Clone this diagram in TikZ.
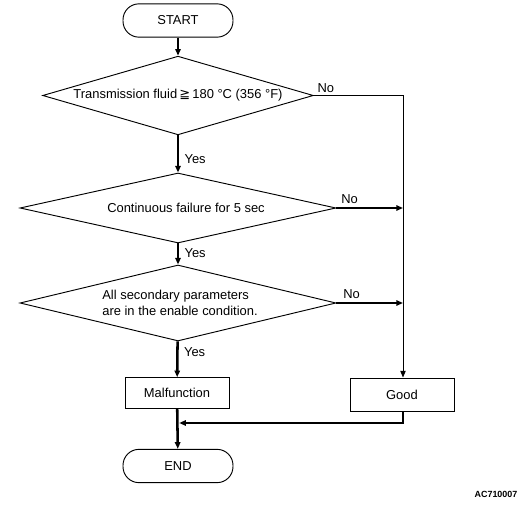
\documentclass[tikz,border=0pt]{standalone}
\usepackage{fontspec}
\setmainfont{Liberation Sans}
\newfontfamily\symfont{DejaVu Sans}
\usetikzlibrary{shapes.geometric, arrows.meta}

\begin{document}
\begin{tikzpicture}[x=0.75pt, y=-0.75pt, inner sep=0pt, font=\fontsize{9.7}{12}\selectfont,
		>={Triangle[length=5pt, width=4pt]}]
	\tikzstyle{every node}=[align=center]
	\tikzstyle{terminal}=[draw, line width=0.7pt, rounded corners=12pt, minimum width=82.5pt, minimum height=25pt]
	\tikzstyle{decision}=[draw, diamond, line width=0.7pt]
	\tikzstyle{process}=[draw, line width=0.7pt, minimum width=78pt]
	\tikzstyle{mainflow}=[line width=1.9pt]
	\tikzstyle{branch}=[line width=1.3pt]
	\tikzstyle{rail}=[line width=0.7pt]
	\useasboundingbox (0,0) rectangle (526,506);

		\node[terminal] (start) at (178, 20.5) {START};
		\node[decision, aspect=3.4, minimum width=203pt, minimum height=59pt] (fluid) at (178, 95.5)
			{Transmission fluid\,{\symfont ≧}\,180 °C (356 °F)};
		\node[decision, aspect=4.5, minimum width=237pt, minimum height=52.5pt] (failure) at (178, 208)
			{\hspace*{12pt}Continuous failure for 5 sec};
		\node[decision, aspect=4.2, minimum width=237pt, minimum height=57pt, align=left] (params) at (178, 303)
			{\hspace*{3pt}All secondary parameters\\\hspace*{3pt}are in the enable condition.};
		\node[process, minimum height=23pt] (malf) at (177, 393) {Malfunction};
		\node[process, minimum height=24.75pt] (good) at (402, 394.5) {Good};
		\node[terminal] (end) at (178, 466) {END};
		\node[font=\bfseries\fontsize{6.7}{8}\selectfont] (code) at (496, 494) {AC710007};

		\coordinate (railtop) at (403, 95.5);
		\coordinate (join) at (178, 423);

		\draw[mainflow, ->] (start) -- (fluid);
		\draw[mainflow, ->] (fluid) -- node[pos=0.65, right=4pt] {Yes} (failure);
		\draw[mainflow, ->] (failure) -- node[pos=0.45, right=4pt] {Yes} (params);
		\draw[mainflow, ->] (params) -- node[pos=0.3, right=4pt] {Yes} (malf);
		\draw[mainflow, ->] (malf) -- (end);

		\draw[rail] (fluid.east) -- node[pos=0, anchor=south west, xshift=2.5pt, yshift=2pt] {No} (railtop);
		\draw[rail, ->] (railtop) -- (railtop |- good.north);
		\draw[branch, ->] (failure.east) -- node[pos=0, anchor=south west, xshift=3pt, yshift=3pt] {No} (failure.east -| railtop);
		\draw[branch, ->] (params.east) -- node[pos=0, anchor=south west, xshift=4.5pt, yshift=2.5pt] {No} (params.east -| railtop);
		\draw[branch, ->, shorten >=0.9pt] (railtop |- good.south) |- (join);
	\end{tikzpicture}
\end{document}
